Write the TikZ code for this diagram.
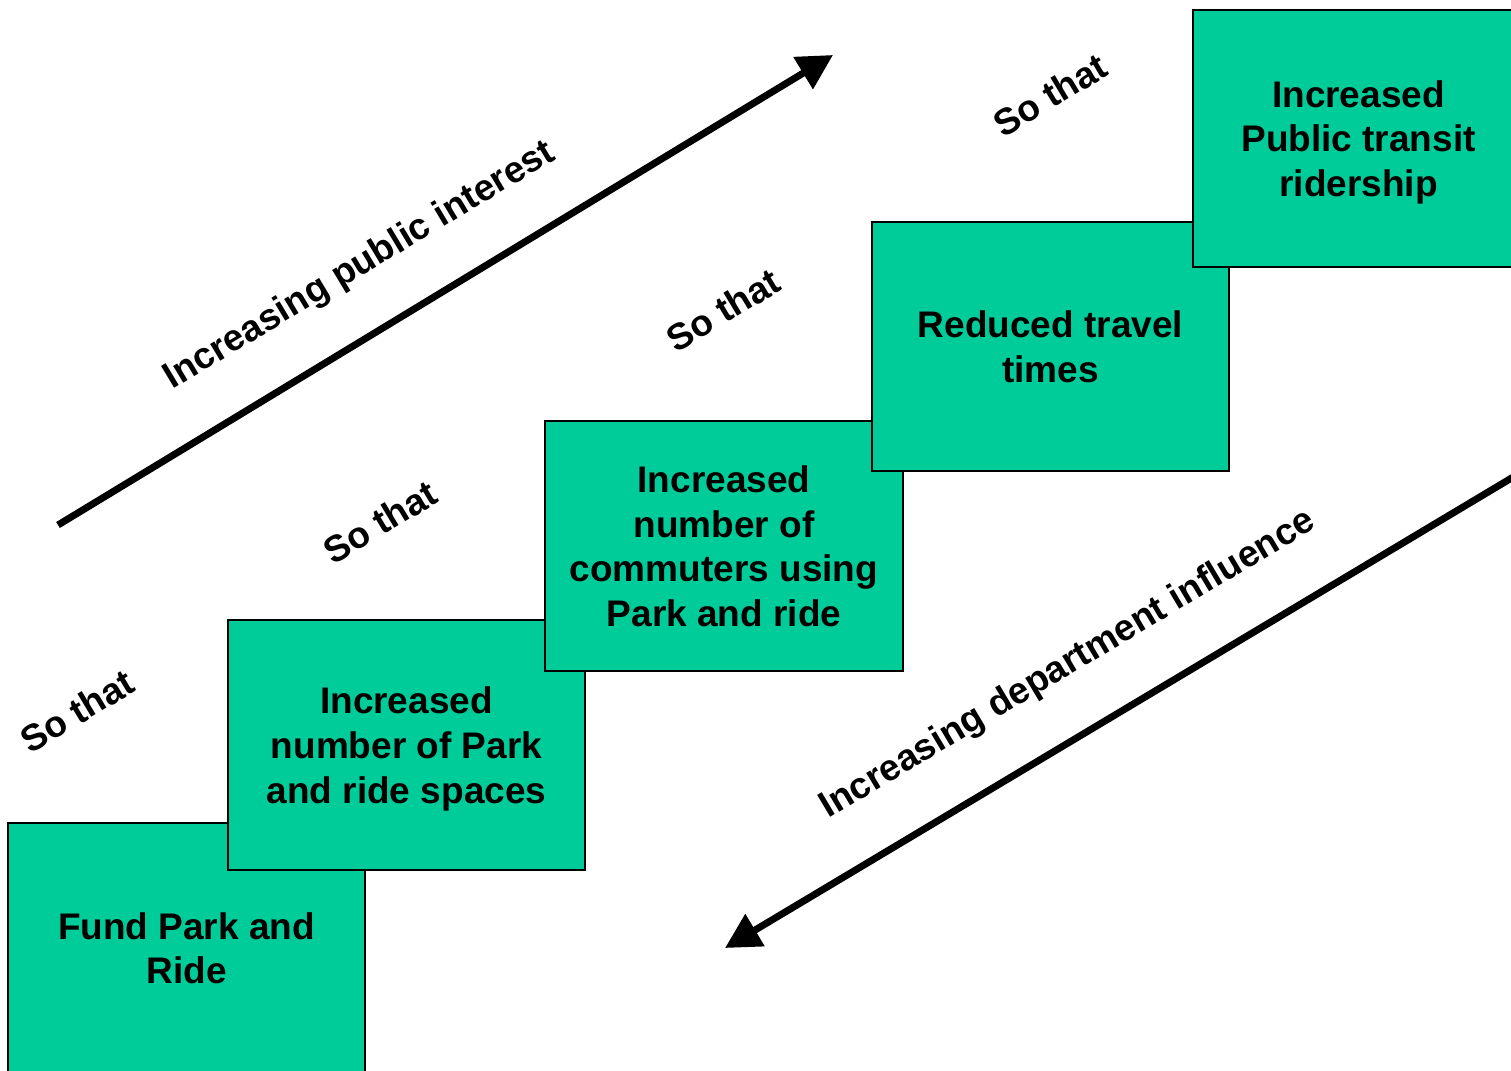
\documentclass[tikz,border=0pt]{standalone}
\usepackage{fontspec}
\setmainfont{Liberation Sans}
\usetikzlibrary{arrows.meta}
\definecolor{stepgreen}{RGB}{0,204,153}
\tikzset{
  stepbox/.style={draw=black, line width=2pt, fill=stepgreen, rectangle,
    align=center, inner sep=0pt, text depth=0pt,
    minimum width=357pt, minimum height=250pt,
    font=\bfseries\fontsize{37}{44.6}\selectfont},
  slanted/.style={rotate=31, inner sep=0pt,
    font=\bfseries\fontsize{37}{44}\selectfont},
  trend/.style={line width=7pt, -{Triangle[length=35pt,width=36pt]}},
}
\begin{document}
\begin{tikzpicture}[x=1pt,y=-1pt]
  \useasboundingbox (0,0) rectangle (1511,1070);
  \clip (0,0) rectangle (1511,1070);
  \fill[white] (0,0) rectangle (1511,1070);

  % staircase of outcomes, each step overlapping the one below
  \node[stepbox] (s1) at (186.5,948) {Fund Park and\\Ride};
  \node[stepbox] (s2) at (406.5,745) {Increased\\number of Park\\and ride spaces};
  \node[stepbox, minimum width=358pt] (s3) at (724,546) {Increased\\number of\\commuters using\\Park and ride};
  \node[stepbox, minimum height=249pt] (s4) at (1050.5,346.5) {Reduced travel\\times};
  \node[stepbox, minimum width=331pt, minimum height=257pt] (s5) at (1358.5,138.5) {Increased\\Public transit\\ridership};

  % links between the steps
  \node[slanted] (l1) at (77,711) {So that};
  \node[slanted] (l2) at (380,522) {So that};
  \node[slanted] (l3) at (723,310) {So that};
  \node[slanted] (l4) at (1050,95) {So that};

  % trend arrows
  \coordinate (pubA) at (58,525);
  \coordinate (pubB) at (833,55);
  \draw[trend] (pubA) -- (pubB);
  \node[slanted] (pubT) at (360,266) {Increasing public interest};

  \coordinate (depA) at (1530,467);
  \coordinate (depB) at (725,948);
  \draw[trend] (depA) -- (depB);
  \node[slanted, rotate=-0.2] (depT) at (1068,665) {Increasing department influence};
\end{tikzpicture}
\end{document}
